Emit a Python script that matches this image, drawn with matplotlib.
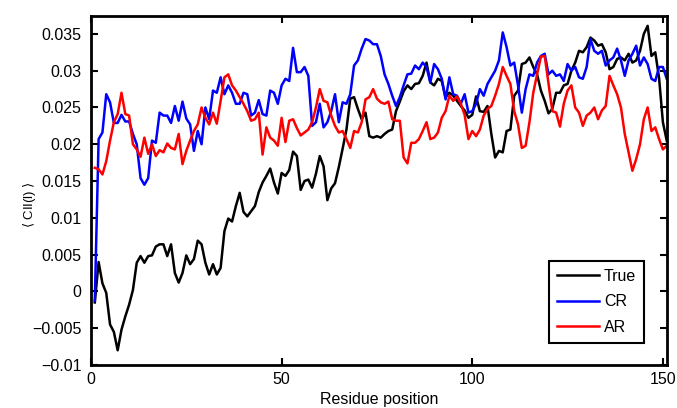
import numpy as np
import matplotlib
matplotlib.use("Agg")
import matplotlib.pyplot as plt
from matplotlib.ticker import FuncFormatter

plt.rcParams['font.family'] = ['Liberation Sans', 'DejaVu Sans']

# Residue positions 1..151
residue = np.arange(1, 152)

true_vals = [
    -0.0015, 0.0040, 0.0011, -0.0002, -0.0045, -0.0055, -0.0080, -0.0052, -0.0034, -0.0018,
    0.0002, 0.0039, 0.0048, 0.0039, 0.0048, 0.0049, 0.0061, 0.0064, 0.0064, 0.0048,
    0.0064, 0.0025, 0.0012, 0.0025, 0.0049, 0.0037, 0.0044, 0.0069, 0.0064, 0.0039,
    0.0023, 0.0037, 0.0023, 0.0032, 0.0082, 0.0099, 0.0095, 0.0116, 0.0134, 0.0108,
    0.0102, 0.0109, 0.0116, 0.0135, 0.0148, 0.0157, 0.0167, 0.0148, 0.0133, 0.0161,
    0.0157, 0.0165, 0.0190, 0.0184, 0.0138, 0.0150, 0.0152, 0.0141, 0.0160, 0.0184,
    0.0170, 0.0124, 0.0140, 0.0147, 0.0169, 0.0194, 0.0220, 0.0262, 0.0264, 0.0248,
    0.0234, 0.0243, 0.0211, 0.0209, 0.0211, 0.0209, 0.0214, 0.0218, 0.0220, 0.0245,
    0.0258, 0.0272, 0.0280, 0.0275, 0.0282, 0.0283, 0.0293, 0.0311, 0.0284, 0.0280,
    0.0289, 0.0286, 0.0264, 0.0270, 0.0266, 0.0259, 0.0252, 0.0246, 0.0236, 0.0240,
    0.0265, 0.0245, 0.0244, 0.0252, 0.0214, 0.0182, 0.0191, 0.0189, 0.0218, 0.0220,
    0.0266, 0.0273, 0.0309, 0.0311, 0.0318, 0.0305, 0.0295, 0.0273, 0.0259, 0.0242,
    0.0248, 0.0270, 0.0270, 0.0280, 0.0282, 0.0300, 0.0311, 0.0327, 0.0325, 0.0332,
    0.0345, 0.0341, 0.0334, 0.0336, 0.0325, 0.0302, 0.0305, 0.0316, 0.0318, 0.0314,
    0.0323, 0.0311, 0.0314, 0.0327, 0.0350, 0.0361, 0.0320, 0.0325, 0.0290, 0.0230,
    0.0205,
]

cr_vals = [
    -0.0013, 0.0207, 0.0216, 0.0268, 0.0257, 0.0229, 0.0229, 0.0240, 0.0231, 0.0231,
    0.0214, 0.0200, 0.0154, 0.0145, 0.0154, 0.0205, 0.0202, 0.0243, 0.0239, 0.0239,
    0.0229, 0.0252, 0.0232, 0.0258, 0.0235, 0.0227, 0.0191, 0.0218, 0.0200, 0.0250,
    0.0234, 0.0273, 0.0270, 0.0291, 0.0268, 0.0280, 0.0270, 0.0255, 0.0255, 0.0270,
    0.0268, 0.0239, 0.0243, 0.0260, 0.0241, 0.0239, 0.0273, 0.0270, 0.0255, 0.0280,
    0.0289, 0.0286, 0.0331, 0.0298, 0.0298, 0.0305, 0.0293, 0.0225, 0.0230, 0.0255,
    0.0223, 0.0230, 0.0245, 0.0268, 0.0230, 0.0257, 0.0255, 0.0268, 0.0307, 0.0314,
    0.0330, 0.0343, 0.0341, 0.0336, 0.0336, 0.0320, 0.0295, 0.0282, 0.0266, 0.0252,
    0.0264, 0.0280, 0.0295, 0.0296, 0.0307, 0.0302, 0.0311, 0.0305, 0.0284, 0.0309,
    0.0302, 0.0289, 0.0261, 0.0291, 0.0268, 0.0266, 0.0255, 0.0268, 0.0243, 0.0245,
    0.0255, 0.0275, 0.0266, 0.0282, 0.0291, 0.0300, 0.0314, 0.0352, 0.0332, 0.0307,
    0.0311, 0.0280, 0.0243, 0.0275, 0.0295, 0.0293, 0.0311, 0.0320, 0.0323, 0.0295,
    0.0300, 0.0293, 0.0295, 0.0286, 0.0309, 0.0300, 0.0305, 0.0291, 0.0289, 0.0305,
    0.0343, 0.0327, 0.0323, 0.0327, 0.0307, 0.0314, 0.0318, 0.0330, 0.0314, 0.0293,
    0.0314, 0.0323, 0.0334, 0.0307, 0.0318, 0.0309, 0.0289, 0.0286, 0.0305, 0.0305,
    0.0289,
]

ar_vals = [
    0.0168, 0.0166, 0.0159, 0.0177, 0.0205, 0.0230, 0.0241, 0.0270, 0.0241, 0.0239,
    0.0200, 0.0193, 0.0183, 0.0209, 0.0187, 0.0200, 0.0184, 0.0192, 0.0189, 0.0201,
    0.0195, 0.0193, 0.0214, 0.0173, 0.0191, 0.0205, 0.0218, 0.0227, 0.0250, 0.0236,
    0.0227, 0.0243, 0.0228, 0.0259, 0.0291, 0.0295, 0.0280, 0.0273, 0.0264, 0.0255,
    0.0245, 0.0232, 0.0234, 0.0243, 0.0186, 0.0223, 0.0209, 0.0205, 0.0198, 0.0236,
    0.0203, 0.0232, 0.0234, 0.0222, 0.0212, 0.0216, 0.0220, 0.0230, 0.0250, 0.0275,
    0.0259, 0.0257, 0.0239, 0.0225, 0.0216, 0.0218, 0.0207, 0.0195, 0.0218, 0.0216,
    0.0230, 0.0261, 0.0264, 0.0275, 0.0262, 0.0257, 0.0255, 0.0258, 0.0234, 0.0232,
    0.0232, 0.0182, 0.0174, 0.0202, 0.0202, 0.0207, 0.0218, 0.0230, 0.0207, 0.0209,
    0.0216, 0.0236, 0.0245, 0.0266, 0.0259, 0.0265, 0.0255, 0.0240, 0.0207, 0.0218,
    0.0211, 0.0220, 0.0239, 0.0248, 0.0252, 0.0266, 0.0282, 0.0305, 0.0293, 0.0282,
    0.0245, 0.0227, 0.0195, 0.0198, 0.0230, 0.0270, 0.0295, 0.0319, 0.0320, 0.0282,
    0.0245, 0.0243, 0.0224, 0.0255, 0.0273, 0.0280, 0.0250, 0.0243, 0.0225, 0.0239,
    0.0243, 0.0250, 0.0234, 0.0246, 0.0252, 0.0293, 0.0280, 0.0268, 0.0250, 0.0214,
    0.0189, 0.0164, 0.0180, 0.0200, 0.0234, 0.0250, 0.0218, 0.0223, 0.0207, 0.0193,
    0.0198,
]

xticks = [0, 50, 100, 150]
yticks = [-0.01, -0.005, 0, 0.005, 0.01, 0.015, 0.02, 0.025, 0.03, 0.035]


def fmt(v, pos):
    if abs(v) < 1e-12:
        return "0"
    return ("%g" % v).replace("-", "\u2212")


fig = plt.figure(figsize=(6.77, 4.08), dpi=100)
ax = fig.add_axes([0.1344, 0.1054, 0.8504, 0.8566])

ax.plot(residue, true_vals, color="black", lw=1.8, label="True")
ax.plot(residue, cr_vals, color="#0000ff", lw=1.8, label="CR")
ax.plot(residue, ar_vals, color="#ff0000", lw=1.8, label="AR")

ax.set_xlim(0, 151)
ax.set_ylim(-0.01, 0.0375)
ax.set_xticks(xticks)
ax.set_yticks(yticks)
ax.yaxis.set_major_formatter(FuncFormatter(fmt))

ax.tick_params(direction="in", length=5, width=1.5, top=True, right=True,
               labelsize=11.5)
ax.tick_params(axis="y", pad=7)
ax.tick_params(axis="x", pad=5)
for s in ax.spines.values():
    s.set_linewidth(2)

ax.set_xlabel("Residue position", fontsize=11.5, labelpad=4)
ax.set_ylabel(r"$\langle$ CII(l) $\rangle$", fontsize=9.5)
ax.yaxis.set_label_coords(-0.092, 0.46)

leg = ax.legend(loc="lower right", fontsize=11.5, handlelength=2.6,
                handletextpad=0.35, borderaxespad=1.4, fancybox=False,
                framealpha=1, edgecolor="black", labelspacing=0.65,
                borderpad=0.5)
leg.get_frame().set_linewidth(1.5)

fig.savefig("out.png", dpi=100)
